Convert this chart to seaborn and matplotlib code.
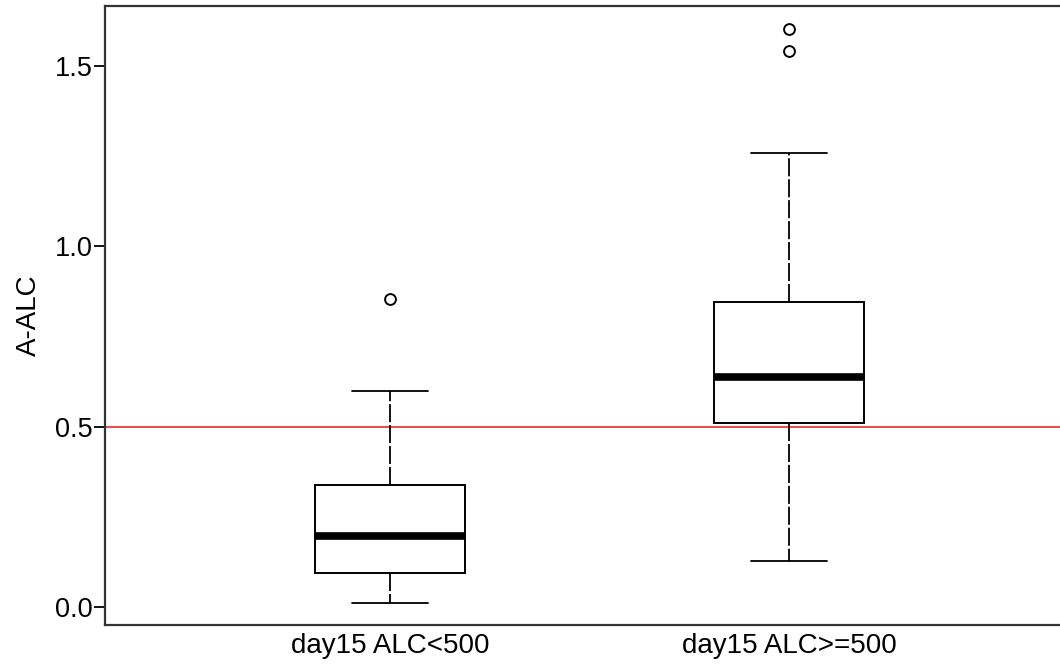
import numpy as np
import pandas as pd
import matplotlib
matplotlib.use("Agg")
import matplotlib.pyplot as plt
import seaborn as sns

# Data (chosen so that quartiles/whiskers/outliers match)
groups = ["day15 ALC<500", "day15 ALC>=500"]
low_values = [0.011, 0.05, 0.094, 0.15, 0.197, 0.27, 0.338, 0.599, 0.854]
high_values = [0.128, 0.30, 0.45, 0.510, 0.55, 0.60, 0.638, 0.70, 0.78, 0.846,
               1.259, 1.542, 1.603]
y_ticks = [0.0, 0.5, 1.0, 1.5]
y_tick_labels = ["0.0", "0.5", "1.0", "1.5"]
threshold = 0.5

df = pd.DataFrame({
    "group": [groups[0]] * len(low_values) + [groups[1]] * len(high_values),
    "value": low_values + high_values,
})

sns.set_style("white")
plt.rcParams["font.family"] = ["Liberation Sans", "DejaVu Sans"]
plt.rcParams["text.color"] = "black"
plt.rcParams["axes.labelcolor"] = "black"
plt.rcParams["xtick.color"] = "black"
plt.rcParams["ytick.color"] = "black"

fig = plt.figure(figsize=(10.6, 6.66), dpi=100)
ax = fig.add_axes([105 / 1060, 41 / 666, (1080 - 105) / 1060, 619 / 666])

sns.boxplot(
    data=df, x="group", y="value", order=groups, ax=ax,
    width=0.378, color="white", linecolor="black", linewidth=1.4,
    whis=1.5,
    medianprops=dict(color="black", linewidth=5.5, solid_capstyle="butt"),
    whiskerprops=dict(color="black", linestyle=(0, (10, 1.6)), linewidth=1.3),
    capprops=dict(color="black", linewidth=1.3),
    flierprops=dict(marker="o", markersize=7.8, markerfacecolor="none",
                    markeredgecolor="black", markeredgewidth=1.4),
)

ax.axhline(threshold, color="#e8161b", linewidth=1.1, zorder=0.5)

ax.set_xlim(-0.714, 1.729)
ax.set_ylim(-0.0499, 1.6667)
ax.set_yticks(y_ticks)
ax.set_yticklabels(y_tick_labels)
ax.set_xlabel("")
ax.set_ylabel("A-ALC", fontsize=20, labelpad=9)

ax.tick_params(axis="y", which="both", left=True, length=8, width=1.3,
               direction="out", pad=1, labelsize=19.5, labelcolor="black")
ax.tick_params(axis="x", length=0, pad=6, labelsize=20, labelcolor="black")

for side in ["left", "right", "top", "bottom"]:
    ax.spines[side].set_visible(True)
    ax.spines[side].set_color("#333333")
    ax.spines[side].set_linewidth(1.6)

fig.savefig("out.png", dpi=100)
